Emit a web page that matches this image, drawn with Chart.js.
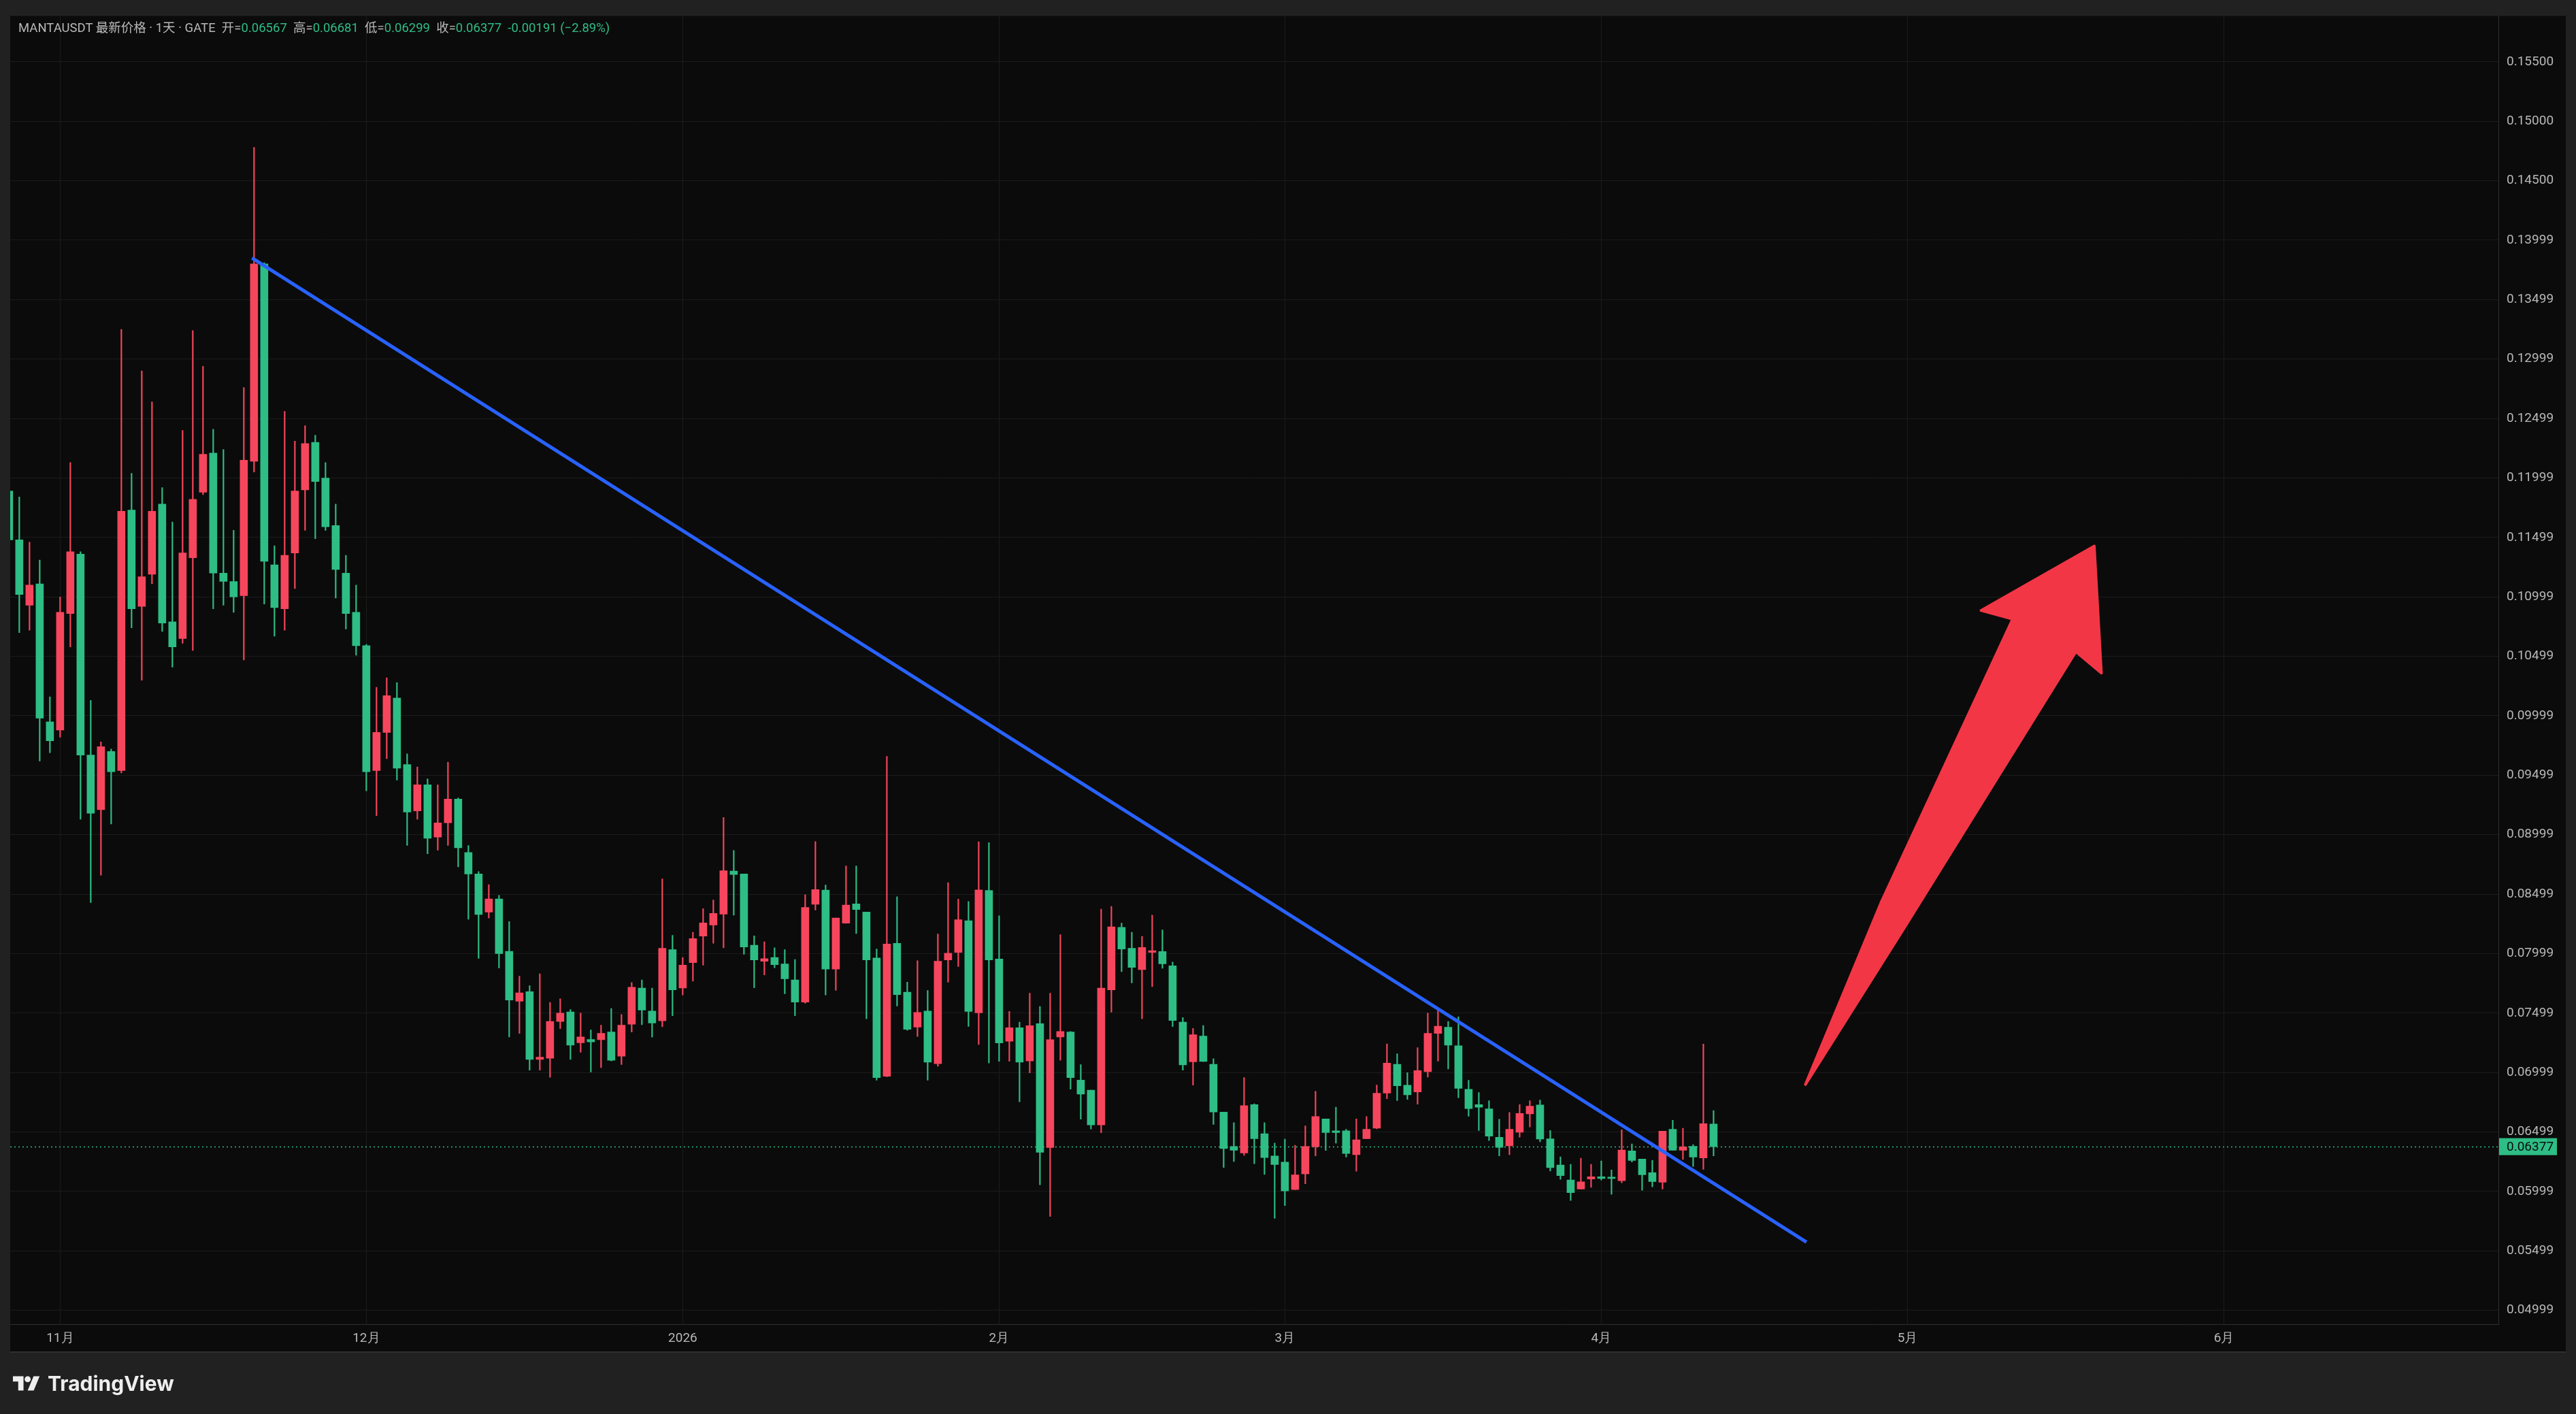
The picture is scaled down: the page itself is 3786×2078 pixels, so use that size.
<!DOCTYPE html>
<html>
<head>
<meta charset="utf-8">
<script src="https://cdn.jsdelivr.net/npm/chart.js@4.4.1/dist/chart.umd.min.js"></script>
<style>
  html, body { margin: 0; padding: 0; background: #212121; }
  #wrap { position: relative; width: 3786px; height: 2078px; overflow: hidden; }
  #chart { position: absolute; left: 0; top: 0; }
  #legend {
    position: absolute; left: 27px; top: 26px;
    font: 18.5px "Roboto", "Noto Sans CJK SC", sans-serif;
    color: #b8b8b8; white-space: pre;
  }
  #legend .v { color: #2ebd85; }
  #logo {
    position: absolute; left: 19px; top: 2014px; height: 38px;
    display: flex; align-items: center; gap: 11px;
    font: bold 30px "Inter", "Roboto", sans-serif; color: #eeeeee;
  }
</style>
</head>
<body>
<div id="wrap">
  <canvas id="chart" width="3786" height="2078"></canvas>
  <div id="legend">MANTAUSDT 最新价格 · 1天 · GATE  开=<span class="v">0.06567</span>  高=<span class="v">0.06681</span>  低=<span class="v">0.06299</span>  收=<span class="v">0.06377</span>  <span class="v">-0.00191 (−2.89%)</span></div>
  <div id="logo">
    <svg width="40" height="30" viewBox="0 0 36 27"><path d="M14 23H7V11H0V4h14z" fill="#eeeeee"/><circle cx="19.5" cy="8" r="4" fill="#eeeeee"/><path d="M27.5 23h-8l7.8-19h8z" fill="#eeeeee"/></svg>
    <span>TradingView</span>
  </div>
</div>
<script>
// daily candles, MANTAUSDT (GATE), 2025-10-27 .. 2026-04-12, index 0 = Oct 27
const opens = [
  0.1189, 0.1148, 0.1093, 0.1111, 0.0995,
  0.0988, 0.1086, 0.1136, 0.0967, 0.0921, 0.0970, 0.0954, 0.1173, 0.1092, 0.1119,
  0.1178, 0.1079, 0.1065, 0.1133, 0.1188, 0.1221, 0.1120, 0.1113, 0.1101, 0.1214,
  0.1380, 0.1127, 0.1090, 0.1137, 0.1190, 0.1230, 0.1200, 0.1160, 0.1120, 0.1087,
  0.1059, 0.0954, 0.0986, 0.1015, 0.0959, 0.0920, 0.0942, 0.0898, 0.0910, 0.0930,
  0.0885, 0.0867, 0.0835, 0.0846, 0.0802, 0.0760, 0.0768, 0.0711, 0.0712, 0.0743,
  0.0751, 0.0725, 0.07278, 0.07276, 0.07341, 0.07138, 0.07406, 0.07711, 0.07517, 0.07435,
  0.08034,
  0.07711, 0.07925, 0.08147, 0.08241, 0.08332, 0.08694, 0.0867, 0.08071, 0.07936, 0.07968,
  0.07914, 0.07779, 0.07592, 0.08415, 0.08535, 0.0787, 0.08256, 0.08419, 0.0835, 0.07964,
  0.06969, 0.08087, 0.07676, 0.07383, 0.07517, 0.07075, 0.07947, 0.08011, 0.08277, 0.07503,
  0.08531,
  0.07955, 0.07263, 0.07377, 0.07098, 0.07411, 0.06369, 0.07299, 0.07341, 0.06936, 0.06852,
  0.06559, 0.07696, 0.08221, 0.08045, 0.07866, 0.08011, 0.08018, 0.07898, 0.07425, 0.0709,
  0.07307, 0.07069, 0.06668, 0.06378, 0.06324, 0.0673, 0.06486, 0.06299,
  0.06247, 0.06016, 0.06148, 0.06376, 0.0661, 0.0651, 0.0651, 0.0631, 0.06444, 0.06533,
  0.06827, 0.07069, 0.06893, 0.06837, 0.07007, 0.07329, 0.07382, 0.07225, 0.06859, 0.06731,
  0.06694, 0.06456, 0.06384, 0.06498, 0.06652, 0.06728, 0.06443, 0.06223, 0.06096, 0.0602,
  0.06105,
  0.06124, 0.06115, 0.0609, 0.06342, 0.06272, 0.06158, 0.06077, 0.06523, 0.06346, 0.0638,
  0.06282, 0.06567
];
const highs = [
  0.1215, 0.1184, 0.1146, 0.1131, 0.1016,
  0.1100, 0.1213, 0.1138, 0.1013, 0.0978, 0.0972, 0.1325, 0.1204, 0.1290, 0.1264,
  0.1192, 0.1163, 0.1240, 0.1324, 0.1294, 0.1241, 0.1224, 0.1156, 0.1276, 0.1478,
  0.1381, 0.1143, 0.1256, 0.1231, 0.1244, 0.1236, 0.1213, 0.1178, 0.1135, 0.1110,
  0.1060, 0.1024, 0.1032, 0.1028, 0.0968, 0.0957, 0.0947, 0.0942, 0.0961, 0.0931,
  0.0891, 0.0869, 0.0858, 0.0849, 0.0827, 0.0781, 0.0773, 0.0783, 0.0759, 0.0762,
  0.0753, 0.0750, 0.07358, 0.07398, 0.07539, 0.07489, 0.07757, 0.07779, 0.07711, 0.08629,
  0.08154,
  0.07968, 0.0818, 0.08378, 0.08452, 0.09145, 0.08868, 0.0867, 0.08149, 0.08099, 0.08049,
  0.08034, 0.07951, 0.08496, 0.08942, 0.08578, 0.0830, 0.08737, 0.08737, 0.0835, 0.08039,
  0.09659, 0.08478, 0.0776, 0.07941, 0.0769, 0.08165, 0.08598, 0.08458, 0.08439, 0.08941,
  0.08933,
  0.08318, 0.07514, 0.07425, 0.07668, 0.07556, 0.07668, 0.08159, 0.07345, 0.07067, 0.06852,
  0.08374, 0.08397, 0.08257, 0.08179, 0.08145, 0.08324, 0.082, 0.07929, 0.07463, 0.07372,
  0.07396, 0.07117, 0.06668, 0.06579, 0.06958, 0.06738, 0.06579, 0.06407,
  0.0644, 0.06388, 0.06552, 0.06842, 0.0661, 0.06709, 0.06523, 0.0661, 0.0663, 0.06895,
  0.07241, 0.07158, 0.06999, 0.0721, 0.075, 0.07532, 0.0743, 0.07468, 0.06935, 0.06832,
  0.06764, 0.06608, 0.06665, 0.06731, 0.06764, 0.06769, 0.06513, 0.06291, 0.06229, 0.0628,
  0.06229,
  0.06257, 0.06181, 0.06519, 0.064, 0.06272, 0.06261, 0.06508, 0.06599, 0.06532, 0.06394,
  0.0724, 0.06681
];
const lows = [
  0.1125, 0.1070, 0.1072, 0.0962, 0.0969,
  0.0982, 0.1058, 0.0913, 0.0843, 0.0866, 0.0909, 0.0952, 0.1074, 0.1030, 0.1111,
  0.1071, 0.1041, 0.1061, 0.1055, 0.1186, 0.1090, 0.1093, 0.1087, 0.1047, 0.1205,
  0.1094, 0.1067, 0.1072, 0.1107, 0.1156, 0.1149, 0.1156, 0.1099, 0.1073, 0.1051,
  0.0937, 0.0916, 0.0964, 0.0946, 0.0891, 0.0913, 0.0884, 0.0887, 0.0891, 0.0873,
  0.0829, 0.0796, 0.0830, 0.0788, 0.0730, 0.0733, 0.0702, 0.0702, 0.0696, 0.0737,
  0.0711, 0.0717, 0.07004, 0.07042, 0.07097, 0.07068, 0.07341, 0.07402, 0.07298, 0.07385,
  0.07478,
  0.07652, 0.07768, 0.07903, 0.08088, 0.08049, 0.08324, 0.07995, 0.07713, 0.07822, 0.07881,
  0.07663, 0.07478, 0.07583, 0.08367, 0.07652, 0.07692, 0.08255, 0.08169, 0.07452, 0.06936,
  0.06964, 0.07559, 0.07355, 0.07304, 0.06936, 0.07053, 0.0776, 0.07891, 0.07388, 0.07237,
  0.07081,
  0.07095, 0.07095, 0.06754, 0.06997, 0.06056, 0.0579, 0.07103, 0.0686, 0.06609, 0.06525,
  0.06494, 0.07508, 0.07849, 0.07754, 0.07453, 0.07723, 0.07877, 0.07386, 0.0702, 0.06895,
  0.07094, 0.06564, 0.06202, 0.06252, 0.06303, 0.06233, 0.06144, 0.05775,
  0.05881, 0.06014, 0.06065, 0.06299, 0.06345, 0.06407, 0.06289, 0.06171, 0.06444, 0.06527,
  0.0678, 0.06765, 0.06775, 0.06734, 0.06962, 0.07096, 0.07031, 0.06788, 0.06633, 0.06513,
  0.06428, 0.06299, 0.0631, 0.06456, 0.06542, 0.06418, 0.06172, 0.06102, 0.05925, 0.0602,
  0.06035,
  0.06096, 0.05976, 0.06073, 0.06248, 0.0601, 0.06039, 0.0602, 0.06346, 0.0627, 0.0621,
  0.06187, 0.06299
];
const closes = [
  0.1148, 0.1102, 0.1110, 0.0998, 0.0979,
  0.1087, 0.1138, 0.0967, 0.0918, 0.0974, 0.0953, 0.1172, 0.1090, 0.1117, 0.1172,
  0.1078, 0.1058, 0.1137, 0.1182, 0.1220, 0.1120, 0.1113, 0.1100, 0.1215, 0.1380,
  0.1130, 0.1091, 0.1135, 0.1189, 0.1229, 0.1197, 0.1159, 0.1123, 0.1086, 0.1059,
  0.0953, 0.0986, 0.1017, 0.0956, 0.0919, 0.0942, 0.0897, 0.0910, 0.0930, 0.0889,
  0.0867, 0.0833, 0.0846, 0.0800, 0.0761, 0.0767, 0.0711, 0.0713, 0.0743, 0.0750,
  0.0723, 0.0730, 0.07258, 0.0733, 0.07103, 0.07398, 0.07718, 0.07526, 0.07417, 0.08045,
  0.07696,
  0.07903, 0.08127, 0.08258, 0.08339, 0.08698, 0.08666, 0.08056, 0.07947, 0.07958, 0.07907,
  0.07788, 0.07592, 0.08389, 0.08539, 0.0787, 0.0830, 0.08408, 0.08371, 0.07947, 0.06958,
  0.08081, 0.07656, 0.07363, 0.07506, 0.07087, 0.07936, 0.08003, 0.08285, 0.07514, 0.08536,
  0.07947,
  0.07249, 0.07377, 0.07087, 0.07394, 0.0633, 0.07277, 0.07346, 0.06958, 0.06818, 0.06559,
  0.0771, 0.08226, 0.08039, 0.07885, 0.08053, 0.08025, 0.07914, 0.07438, 0.07065, 0.07318,
  0.07094, 0.06668, 0.06361, 0.06347, 0.06722, 0.06444, 0.06285, 0.06227,
  0.06005, 0.0614, 0.06378, 0.0663, 0.06496, 0.06496, 0.0632, 0.06434, 0.06523, 0.06827,
  0.0708, 0.06889, 0.06813, 0.07017, 0.0733, 0.0739, 0.07231, 0.06868, 0.06697, 0.06709,
  0.06466, 0.06371, 0.06523, 0.06656, 0.06718, 0.06441, 0.0620, 0.06134, 0.05991, 0.06081,
  0.06124,
  0.06109, 0.06109, 0.06348, 0.06261, 0.0614, 0.06083, 0.06508, 0.06346, 0.06375, 0.06289,
  0.0657, 0.06377
];

// time axis: day index of each month start (Oct 27 = 0)
const monthTickIdx = [5, 35, 66, 97, 125, 156, 186, 217];
const monthTickLabels = ['11月', '12月', '2026', '2月', '3月', '4月', '5月', '6月'];

// price axis
const priceTicks = [0.05, 0.055, 0.06, 0.065, 0.07, 0.075, 0.08, 0.085, 0.09, 0.095, 0.1,
  0.105, 0.11, 0.115, 0.12, 0.125, 0.13, 0.135, 0.14, 0.145, 0.15, 0.155];
const priceTickLabels = ['0.04999', '0.05499', '0.05999', '0.06499', '0.06999', '0.07499',
  '0.07999', '0.08499', '0.08999', '0.09499', '0.09999', '0.10499', '0.10999', '0.11499',
  '0.11999', '0.12499', '0.12999', '0.13499', '0.13999', '0.14500', '0.15000', '0.15500'];

// drawings: trend line and arrow (day index, price)
const trendX = [23.8, 176.1];
const trendY = [0.1385, 0.05574];
const arrowX = [176.0, 183.4, 196.3, 193.2, 204.3, 205.0, 202.5, 185.8];
const arrowY = [0.06899, 0.08428, 0.10814, 0.10886, 0.11428, 0.10359, 0.10539, 0.08232];

const UP = '#f6465d';
const DOWN = '#2ebd85';
const candleColors = closes.map((c, i) => (c > opens[i] ? UP : DOWN));
const lastClose = closes[closes.length - 1];

const panelBg = {
  id: 'panelBg',
  beforeDraw(chart) {
    const { ctx, chartArea, scales } = chart;
    ctx.save();
    ctx.fillStyle = '#212121';
    ctx.fillRect(0, 0, chart.width, chart.height);
    ctx.fillStyle = '#0b0b0b';
    ctx.fillRect(chartArea.left, chartArea.top, scales.y.right - chartArea.left, scales.x.bottom - chartArea.top);
    ctx.fillStyle = '#303030';
    ctx.fillRect(chartArea.left, scales.x.bottom, scales.y.right - chartArea.left, 2);
    ctx.restore();
  },
  beforeDatasetsDraw(chart) {
    // dotted last price line
    const { ctx, chartArea, scales } = chart;
    const y = Math.round(scales.y.getPixelForValue(lastClose)) + 0.5;
    ctx.save();
    ctx.strokeStyle = DOWN;
    ctx.lineWidth = 1.5;
    ctx.setLineDash([2, 4]);
    ctx.beginPath();
    ctx.moveTo(chartArea.left, y);
    ctx.lineTo(chartArea.right, y);
    ctx.stroke();
    ctx.restore();
  }
};

const arrowPlugin = {
  id: 'arrow',
  afterDatasetsDraw(chart) {
    const { ctx, scales } = chart;
    ctx.save();
    ctx.beginPath();
    arrowX.forEach((v, i) => {
      const px = scales.x.getPixelForValue(v);
      const py = scales.y.getPixelForValue(arrowY[i]);
      if (i === 0) ctx.moveTo(px, py); else ctx.lineTo(px, py);
    });
    ctx.closePath();
    ctx.fillStyle = '#f23645';
    ctx.strokeStyle = '#f23645';
    ctx.lineJoin = 'round';
    ctx.lineWidth = 4;
    ctx.fill();
    ctx.stroke();
    ctx.restore();
  }
};

const priceLabel = {
  id: 'priceLabel',
  afterDraw(chart) {
    const { ctx, scales } = chart;
    const ys = scales.y;
    const y = ys.getPixelForValue(lastClose);
    ctx.save();
    ctx.fillStyle = DOWN;
    ctx.fillRect(ys.left + 1, y - 12.5, 85, 25);
    ctx.fillStyle = '#0b0b0b';
    ctx.font = '19px Roboto';
    ctx.textBaseline = 'middle';
    ctx.fillText(lastClose.toFixed(5), ys.left + 12, y + 1);
    ctx.restore();
  }
};

new Chart(document.getElementById('chart'), {
  type: 'bar',
  data: {
    datasets: [
      {
        type: 'line',
        data: trendX.map((x, i) => ({ x: x, y: trendY[i] })),
        borderColor: '#2962ff',
        borderWidth: 5,
        pointRadius: 0,
        order: 0
      },
      {
        data: closes.map((c, i) => ({ x: i, y: [opens[i], c] })),
        backgroundColor: candleColors,
        barThickness: 11,
        minBarLength: 2,
        grouped: false,
        order: 1
      },
      {
        data: highs.map((h, i) => ({ x: i, y: [lows[i], h] })),
        backgroundColor: candleColors,
        barThickness: 1.5,
        grouped: false,
        order: 2
      }
    ]
  },
  options: {
    responsive: false,
    animation: false,
    devicePixelRatio: 1,
    layout: { padding: { left: 15, top: 15, right: 15, bottom: 92 } },
    plugins: { legend: { display: false }, tooltip: { enabled: false } },
    scales: {
      x: {
        type: 'linear',
        min: 0.11,
        max: 243.9,
        offset: false,
        grid: { color: '#1b1b1b', offset: false, drawTicks: false },
        border: { color: '#2e2e2e' },
        afterBuildTicks: (s) => { s.ticks = monthTickIdx.map((v) => ({ value: v })); },
        afterFit: (s) => { s.height = 40; },
        ticks: {
          autoSkip: false,
          maxRotation: 0,
          padding: 10,
          color: '#b8b8b8',
          font: { family: 'Roboto', size: 19 },
          callback: (v, i) => monthTickLabels[i]
        }
      },
      y: {
        position: 'right',
        min: 0.04884,
        max: 0.15886,
        beginAtZero: false,
        grid: { color: '#1b1b1b', drawTicks: false },
        border: { color: '#2e2e2e' },
        afterBuildTicks: (s) => { s.ticks = priceTicks.map((v) => ({ value: v })); },
        afterFit: (s) => { s.width = 99; },
        ticks: {
          padding: 12,
          color: '#b8b8b8',
          font: { family: 'Roboto', size: 19 },
          callback: (v, i) => priceTickLabels[i]
        }
      }
    }
  },
  plugins: [panelBg, arrowPlugin, priceLabel]
});
</script>
</body>
</html>
